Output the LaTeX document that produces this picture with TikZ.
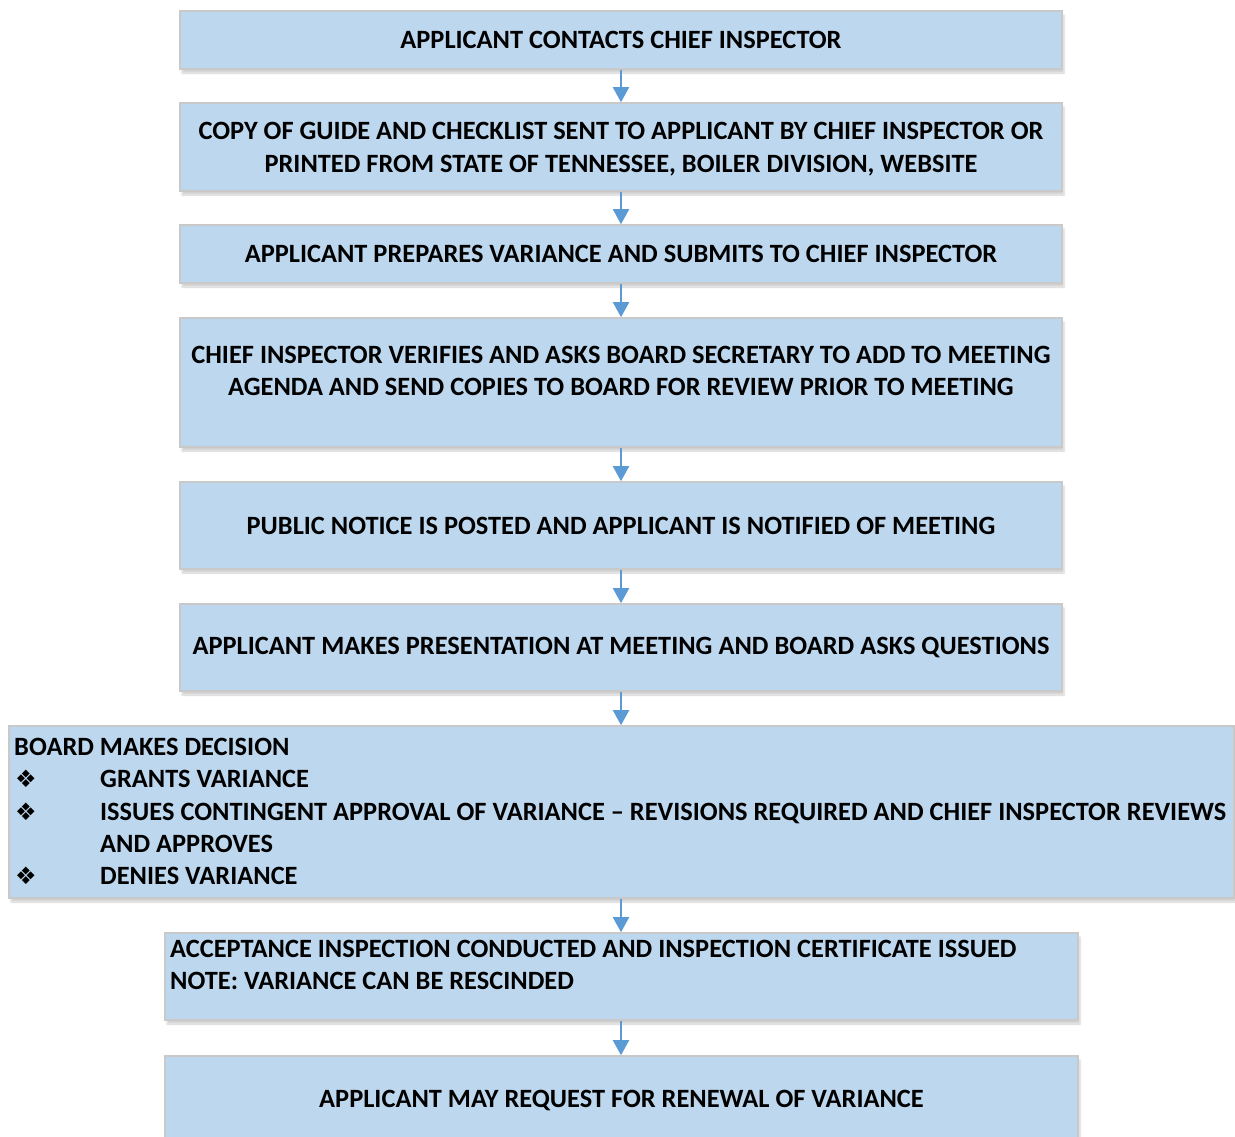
\documentclass[tikz,border=0pt]{standalone}
\usepackage{fontspec}
\setmainfont{Carlito}
\newfontfamily\symfont{DejaVu Sans}
\usetikzlibrary{arrows.meta,shadows.blur}
\definecolor{boxfill}{HTML}{BDD7EE}
\definecolor{boxline}{HTML}{C9C9C9}
\definecolor{arrowblue}{HTML}{5B9BD5}
\newcommand{\bul}{\makebox[86pt][l]{\hspace{1pt}{\symfont\fontsize{24}{24}\selectfont ❖}}}

\begin{document}
\begin{tikzpicture}[x=1pt,y=-1pt,font=\bfseries\fontsize{26.4}{32.3}\selectfont,
  box/.style={draw=boxline,line width=1.6pt,fill=boxfill,inner sep=0pt,align=center,
    blur shadow={shadow xshift=2pt,shadow yshift=-4pt,shadow opacity=18,shadow blur steps=6}},
  txt/.style={inner sep=0pt},
  flow/.style={draw=arrowblue,line width=2pt,-{Triangle[width=16pt,length=15pt]}}]
\useasboundingbox (0,0) rectangle (1235,1136);
% main column
\node[box,minimum width=882pt,minimum height=58pt] (b1) at (621,40) {APPLICANT CONTACTS CHIEF INSPECTOR};
\node[box,minimum width=882pt,minimum height=88pt] (b2) at (621,147) {};
\node[txt,align=center] (t2) at (621,149) {COPY OF GUIDE AND CHECKLIST SENT TO APPLICANT BY CHIEF INSPECTOR OR\\PRINTED FROM STATE OF TENNESSEE, BOILER DIVISION, WEBSITE};
\node[box,minimum width=882pt,minimum height=58pt] (b3) at (621,254) {APPLICANT PREPARES VARIANCE AND SUBMITS TO CHIEF INSPECTOR};
\node[box,minimum width=882pt,minimum height=129pt] (b4) at (621,382.5) {};
\node[txt,align=center] (t4) at (621,371) {CHIEF INSPECTOR VERIFIES AND ASKS BOARD SECRETARY TO ADD TO MEETING\\AGENDA AND SEND COPIES TO BOARD FOR REVIEW PRIOR TO MEETING};
\node[box,minimum width=882pt,minimum height=87pt] (b5) at (621,525.5) {PUBLIC NOTICE IS POSTED AND APPLICANT IS NOTIFIED OF MEETING};
\node[box,minimum width=882pt,minimum height=87pt] (b6) at (621,647.5) {APPLICANT MAKES PRESENTATION AT MEETING AND BOARD ASKS QUESTIONS};
% decision
\node[box,minimum width=1225pt,minimum height=172pt] (b7) at (621.5,812) {};
\node[txt,align=left,anchor=west] (t7) at (14,811.5) {BOARD MAKES DECISION\\
  \bul GRANTS VARIANCE\\
  \bul ISSUES CONTINGENT APPROVAL OF VARIANCE -- REVISIONS REQUIRED AND CHIEF INSPECTOR REVIEWS\\
  \hspace*{86pt}AND APPROVES\\
  \bul DENIES VARIANCE};
% after decision
\node[box,minimum width=913pt,minimum height=87pt] (b8) at (621.5,976.5) {};
\node[txt,align=left,anchor=west] (t8) at (170,965) {ACCEPTANCE INSPECTION CONDUCTED AND INSPECTION CERTIFICATE ISSUED\\NOTE: VARIANCE CAN BE RESCINDED};
\node[box,minimum width=913pt,minimum height=88pt] (b9) at (621.5,1100) {APPLICANT MAY REQUEST FOR RENEWAL OF VARIANCE};
% arrows
\foreach \a/\b in {b1/b2,b2/b3,b3/b4,b4/b5,b5/b6,b6/b7,b7/b8,b8/b9}
  \draw[flow] (\a.south -| 621,0) -- (\b.north -| 621,0);
\end{tikzpicture}
\end{document}
